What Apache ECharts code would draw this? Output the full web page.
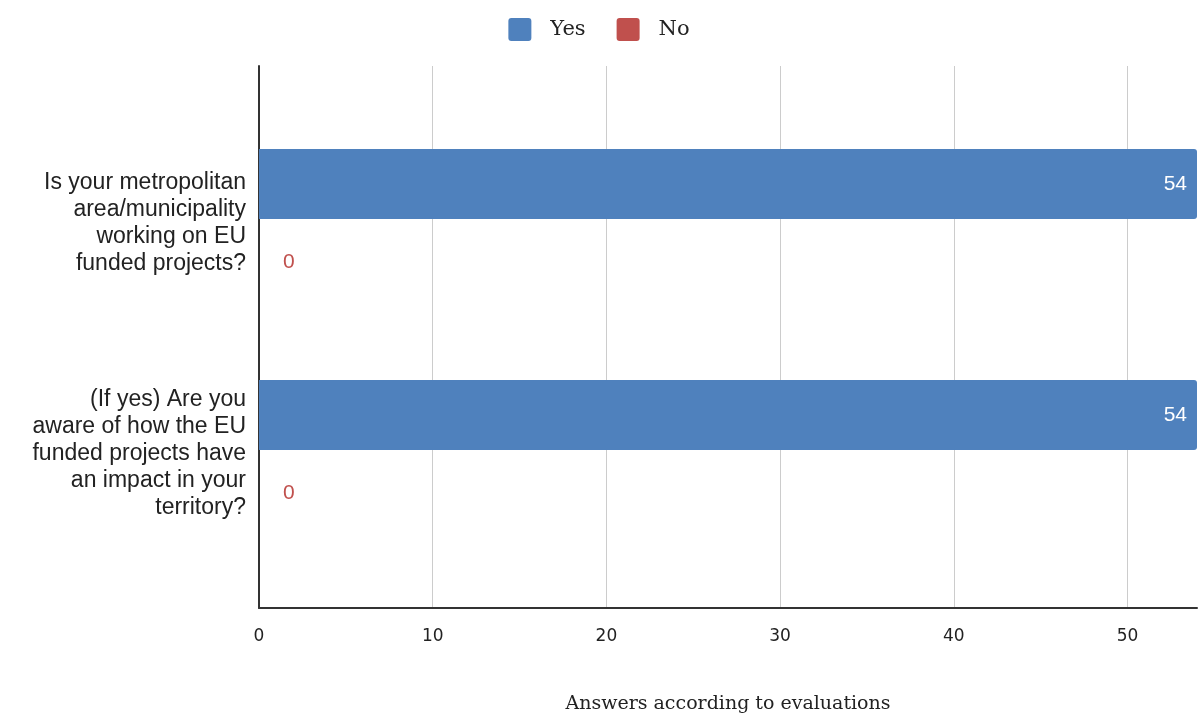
<!DOCTYPE html>
<html><head><meta charset="utf-8">
<script src="https://cdn.jsdelivr.net/npm/echarts@6/dist/echarts.min.js"></script>
<style>html,body{margin:0;padding:0;background:#fff}#c{width:1198px;height:717px}</style>
</head><body><div id="c"></div>
<script>
const categories = [
  "Is your metropolitan\narea/municipality\nworking on EU\nfunded projects?",
  "(If yes) Are you\naware of how the EU\nfunded projects have\nan impact in your\nterritory?"
];
const yesValues = [54, 54];
const noValues = [0, 0];
const xMin = 0, xMax = 54, xInterval = 10;
const xAxisName = "Answers according to evaluations";

const chart = echarts.init(document.getElementById('c'));
chart.setOption({
  animation: false,
  legend: {
    top: 13, left: 'center',
    itemWidth: 23, itemHeight: 23, itemGap: 31,
    icon: 'path://M3,0 H20 Q23,0 23,3 V20 Q23,23 20,23 H3 Q0,23 0,20 V3 Q0,0 3,0 Z',
    textStyle: { fontFamily: 'DejaVu Serif', fontSize: 21, color: '#222', padding: [0, 0, 0, 14] },
    data: ['Yes', 'No']
  },
  grid: [
    { left: 259, right: 1, top: 66, bottom: 109, outerBoundsMode: 'none', containLabel: false },
    { left: 259, right: 1, top: 107.5, bottom: 147.5, outerBoundsMode: 'none', containLabel: false }
  ],
  xAxis: [
    { gridIndex: 0, type: 'value', min: xMin, max: xMax, interval: xInterval,
      axisLine: { show: true, lineStyle: { color: '#333', width: 2 } },
      axisTick: { show: false },
      splitLine: { show: true, showMaxLine: false, lineStyle: { color: '#cccccc', width: 1 } },
      axisLabel: { fontFamily: 'DejaVu Sans', fontSize: 17, color: '#222', margin: 20, showMaxLabel: false },
      name: xAxisName, nameLocation: 'middle', nameGap: 87,
      nameTextStyle: { fontFamily: 'DejaVu Serif', fontSize: 19, color: '#222' }
    },
    { gridIndex: 1, type: 'value', min: xMin, max: xMax, show: false }
  ],
  yAxis: [
    { gridIndex: 0, type: 'category', data: categories, inverse: true,
      axisLine: { show: true, lineStyle: { color: '#333', width: 2 } },
      axisTick: { show: false }, axisLabel: { show: false }, splitLine: { show: false } },
    { gridIndex: 1, type: 'category', data: categories, inverse: true,
      axisLine: { show: false }, axisTick: { show: false },
      axisLabel: { fontFamily: 'Liberation Sans', fontSize: 23, lineHeight: 27, color: '#222', margin: 13, align: 'right' } }
  ],
  series: [
    { name: 'Yes', type: 'bar', xAxisIndex: 1, yAxisIndex: 1, data: yesValues,
      barWidth: 70, barGap: '11.5%',
      itemStyle: { color: '#4f81bd', borderRadius: [0, 3, 3, 0] },
      label: { show: true, position: 'insideRight', distance: 10, color: '#fff',
        fontFamily: 'Liberation Sans', fontSize: 21 } },
    { name: 'No', type: 'bar', xAxisIndex: 1, yAxisIndex: 1, data: noValues,
      barWidth: 70,
      itemStyle: { color: '#c0504d' },
      label: { show: true, position: 'right', distance: 24, color: '#c0504d',
        fontFamily: 'Liberation Sans', fontSize: 21 } }
  ]
});
</script></body></html>
